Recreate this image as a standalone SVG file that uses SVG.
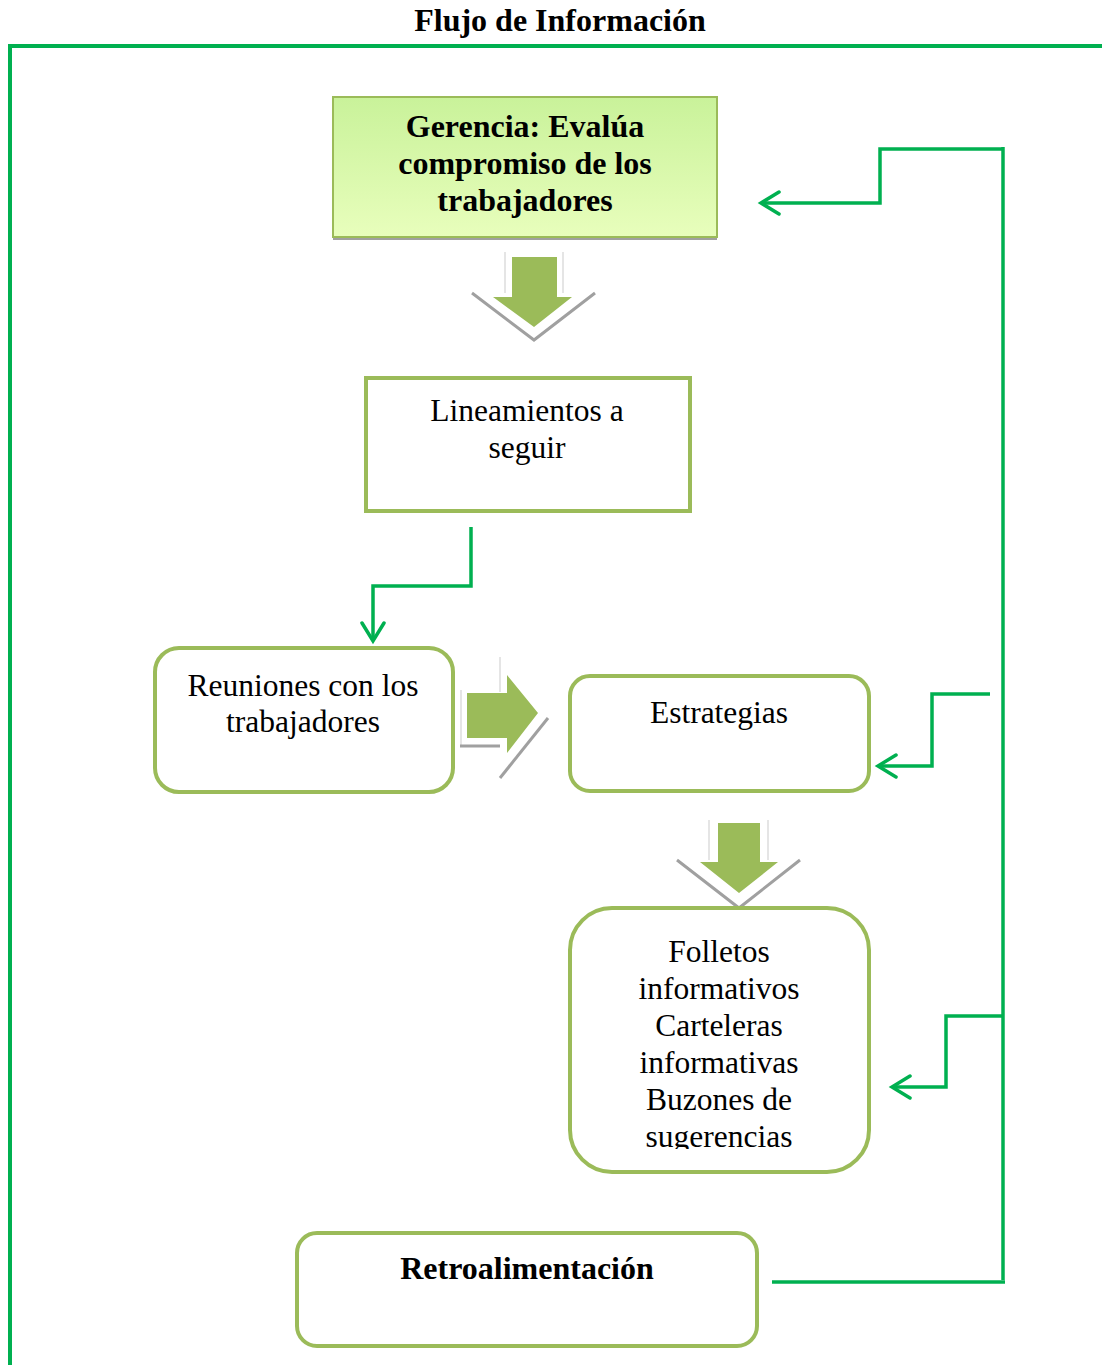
<svg xmlns="http://www.w3.org/2000/svg" width="1102" height="1365" viewBox="0 0 1102 1365">
<style>
.box{fill:#fff;stroke:#9BBB59;stroke-width:4}
.t{font-family:"Liberation Serif","Times New Roman",serif;font-size:31.5px;fill:#000;text-anchor:middle}
.b{font-weight:bold;font-size:32px}
.c{fill:none;stroke:#00B050;stroke-width:3.5}
.ga{fill:#9BBB59}
.gl{fill:none;stroke:#A0A0A0;stroke-width:3}
.ll{fill:none;stroke:#DDDDDD;stroke-width:1.5}
</style>
<defs>
<linearGradient id="gg" x1="0" y1="0" x2="0" y2="1">
<stop offset="0" stop-color="#C9F29A"/>
<stop offset="1" stop-color="#E8FEBC"/>
</linearGradient>
<marker id="ah" markerUnits="userSpaceOnUse" markerWidth="26" markerHeight="28" refX="21" refY="13" orient="auto" viewBox="0 0 26 28">
<path d="M3,2 L21,13 L3,24" fill="none" stroke="#00B050" stroke-width="3.5" stroke-linecap="round"/>
</marker>
<clipPath id="fc"><rect x="570" y="908" width="300" height="241"/></clipPath>
</defs>

<text class="t b" x="560" y="31">Flujo de Información</text>

<g id="frame">
<path d="M10,1365 V46 H1102" fill="none" stroke="#00B050" stroke-width="4"/>
</g>

<g id="gerencia">
<line x1="333" y1="238.5" x2="717" y2="238.5" stroke="#A0A0A0" stroke-width="3"/>
<rect x="333" y="97" width="384" height="140" fill="url(#gg)" stroke="#9BBB59" stroke-width="2"/>
<text class="t b" x="525" y="137">Gerencia: Evalúa</text>
<text class="t b" x="525" y="174">compromiso de los</text>
<text class="t b" x="525" y="211">trabajadores</text>
</g>

<g id="arrow1">
<line class="ll" x1="505" y1="252" x2="505" y2="293"/>
<line class="ll" x1="563" y1="252" x2="563" y2="293"/>
<path class="gl" d="M472,293 L534,340 L595,293"/>
<path class="ga" d="M512,257 H557 V297 H572 L534,327 L493,297 H512 Z"/>
</g>

<g id="lineamientos">
<rect class="box" x="366" y="378" width="324" height="133"/>
<text class="t" x="527" y="421">Lineamientos a</text>
<text class="t" x="527" y="458">seguir</text>
</g>

<g id="reuniones">
<rect class="box" x="155" y="648" width="298" height="144" rx="24"/>
<text class="t" x="303" y="696">Reuniones con los</text>
<text class="t" x="303" y="732">trabajadores</text>
</g>

<g id="arrow2">
<line class="ll" x1="500" y1="657" x2="500" y2="692"/>
<line class="ll" x1="461" y1="690" x2="461" y2="745"/>
<line x1="460" y1="746" x2="500" y2="746" stroke="#A0A0A0" stroke-width="3"/>
<line class="gl" x1="548" y1="718" x2="500" y2="778"/>
<path class="ga" d="M467,693 H507 V675 L538,713 L507,753 V738 H467 Z"/>
</g>

<g id="estrategias">
<rect class="box" x="570" y="676" width="299" height="115" rx="20"/>
<text class="t" x="719" y="723">Estrategias</text>
</g>

<g id="arrow3">
<line class="ll" x1="709" y1="820" x2="709" y2="860"/>
<line class="ll" x1="768" y1="820" x2="768" y2="860"/>
<path class="gl" d="M677,860 L739,908 L800,860"/>
<path class="ga" d="M718,823 H760 V862 H778 L739,893 L700,862 H718 Z"/>
</g>

<g id="folletos">
<rect class="box" x="570" y="908" width="299" height="264" rx="42"/>
<g clip-path="url(#fc)">
<text class="t" x="719" y="962">Folletos</text>
<text class="t" x="719" y="999">informativos</text>
<text class="t" x="719" y="1036">Carteleras</text>
<text class="t" x="719" y="1073">informativas</text>
<text class="t" x="719" y="1110">Buzones de</text>
<text class="t" x="719" y="1147">sugerencias</text>
</g>
</g>

<g id="retroalimentacion">
<rect class="box" x="297" y="1233" width="460" height="113" rx="20"/>
<text class="t b" x="527" y="1279">Retroalimentación</text>
</g>

<g id="connectors">
<path class="c" d="M471,527 V586 H373 V641" marker-end="url(#ah)"/>
<path class="c" d="M1003,149 H880 V203 H761" marker-end="url(#ah)"/>
<path class="c" d="M990,694 H932 V766 H878" marker-end="url(#ah)"/>
<path class="c" d="M1003,1016 H946 V1087 H892" marker-end="url(#ah)"/>
<line class="c" x1="1003" y1="147" x2="1003" y2="1280"/>
<line class="c" x1="772" y1="1282" x2="1005" y2="1282"/>
</g>
</svg>
